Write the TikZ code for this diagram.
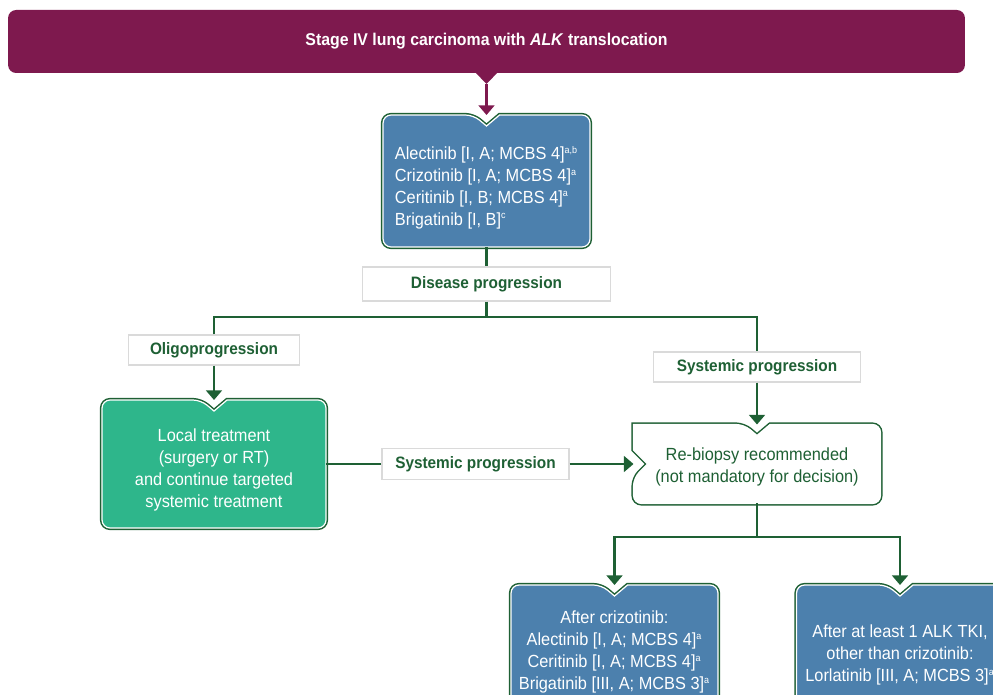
\documentclass[tikz,border=0pt]{standalone}
\usepackage{fontspec}
\setmainfont{Liberation Sans}[FakeStretch=0.93]
\usepackage{tikz}
\usetikzlibrary{arrows.meta,backgrounds}

\definecolor{maroon}{RGB}{126,25,78}
\definecolor{boxblue}{RGB}{76,128,173}
\definecolor{dkgreen}{RGB}{30,96,52}
\definecolor{localgreen}{RGB}{46,182,139}
\definecolor{tagline}{RGB}{218,218,218}

\newcommand{\supnote}[1]{\textsuperscript{\fontsize{5.5}{6}\selectfont #1}}

% frame with a notch in the top edge
\newcommand{\notchframe}[2]{%
  \path[boxframe=#2] ([xshift=0.26cm]#1.north) [rounded corners=0.16cm]
    -- (#1.north east) -- (#1.south east) -- (#1.south west) -- (#1.north west)
    -- ([xshift=-0.26cm]#1.north) [sharp corners] -- ([yshift=-0.22cm]#1.north) -- cycle;}

\tikzset{
  boxshape/.style={inner sep=0pt, outer sep=0pt},
  boxframe/.style={fill=#1, preaction={draw=dkgreen, line width=2.4pt}, draw=white, line width=0.7pt},
  boxtext/.style={text=white, align=center, inner sep=0pt, font=\fontsize{10}{12.5}\selectfont},
  tag/.style={draw=tagline, fill=white, line width=0.6pt, inner sep=0pt, text=dkgreen,
    font=\fontsize{9.4}{11}\selectfont\bfseries},
  link/.style={draw=dkgreen, line width=1.4pt},
  arrowlink/.style={link, -{Triangle[width=9pt,length=5.5pt]}},
}

\begin{document}
\begin{tikzpicture}[x=0.02cm, y=-0.02cm]

  \clip (0,0) rectangle (993,695);

  % top banner
  \node[boxshape, fill=maroon, rounded corners=0.16cm, minimum width=19.14cm, minimum height=1.26cm,
    text=white, font=\fontsize{9.7}{11}\selectfont\bfseries] (stage) at (486.5,41.5)
    {Stage IV lung carcinoma with \textit{ALK} translocation};
  \fill[maroon] ([xshift=-0.26cm,yshift=0.05cm]stage.south) -- ([xshift=0.26cm,yshift=0.05cm]stage.south)
    -- ([yshift=-0.22cm]stage.south) -- cycle;
  \coordinate (stagetip) at ([yshift=-0.22cm]stage.south);

  % first line
  \node[boxshape, minimum width=4.14cm, minimum height=2.64cm] (first) at (486.5,181) {};
  \node[boxtext, align=left] (first-txt) at ([yshift=-0.13cm]first.center)
    {Alectinib [I, A; MCBS 4]\supnote{a,b}\\
     Crizotinib [I, A; MCBS 4]\supnote{a}\\
     Ceritinib [I, B; MCBS 4]\supnote{a}\\
     Brigatinib [I, B]\supnote{c}};

  \node[tag, minimum width=4.96cm, minimum height=0.68cm] (dis) at (486.5,284) {Disease progression};
  \coordinate (split) at (486.5,317);

  \node[tag, minimum width=3.42cm, minimum height=0.6cm] (oligo) at (214,350) {Oligoprogression};
  \node[tag, minimum width=4.14cm, minimum height=0.6cm] (sys) at (757,367) {Systemic progression};

  % local treatment
  \node[boxshape, minimum width=4.48cm, minimum height=2.56cm] (local) at (214,464) {};
  \node[boxtext] (local-txt) at ([yshift=-0.12cm]local.center)
    {Local treatment\\ (surgery or RT)\\ and continue targeted\\ systemic treatment};

  \node[tag, minimum width=3.74cm, minimum height=0.62cm] (sysmid) at (475.5,464) {Systemic progression};

  % re-biopsy
  \node[boxshape, minimum width=4.94cm, minimum height=1.58cm] (rebio) at (757,464) {};
  \node[boxtext, text=dkgreen] (rebio-txt) at ([yshift=-0.06cm]rebio.center)
    {Re-biopsy recommended\\ (not mandatory for decision)};
  \coordinate (split2) at (757,537);

  % second line
  \node[boxshape, minimum width=4.14cm, minimum height=3cm] (after1) at (614.5,660) {};
  \node[boxtext] (after1-txt) at ([yshift=0.155cm]after1.center)
    {After crizotinib:\\
     Alectinib [I, A; MCBS 4]\supnote{a}\\
     Ceritinib [I, A; MCBS 4]\supnote{a}\\
     Brigatinib [III, A; MCBS 3]\supnote{a}};

  \node[boxshape, minimum width=4.14cm, minimum height=3cm] (after2) at (900,660) {};
  \node[boxtext] (after2-txt) at ([yshift=0.1cm]after2.center)
    {After at least 1 ALK TKI,\\
     other than crizotinib:\\
     Lorlatinib [III, A; MCBS 3]\supnote{a}};

  \begin{scope}[on background layer]
    \notchframe{first}{boxblue}
    \notchframe{local}{localgreen}
    \notchframe{after1}{boxblue}
    \notchframe{after2}{boxblue}
    \path[boxframe=white] ([xshift=0.26cm]rebio.north) [rounded corners=0.16cm]
      -- (rebio.north east) -- (rebio.south east) -- (rebio.south west)
      -- ([yshift=-0.28cm]rebio.west) [sharp corners] -- ([xshift=0.28cm]rebio.west)
      -- ([yshift=0.28cm]rebio.west) -- (rebio.north west) [rounded corners=0.16cm]
      -- ([xshift=-0.26cm]rebio.north) [sharp corners] -- ([yshift=-0.22cm]rebio.north) -- cycle;
  \end{scope}

  % connectors
  \draw[draw=maroon, line width=1.4pt, -{Triangle[width=9pt,length=5.5pt]}] (stagetip) -- (first.north);
  \draw[link] (first) -- (dis);
  \draw[link] (dis) -- (split);
  \draw[link] (oligo.north) |- (split) -| (sys.north);
  \draw[arrowlink] (oligo) -- (local.north);
  \draw[arrowlink] (sys) -- (rebio.north);
  \draw[link] (local.east) -- (sysmid.west);
  \draw[arrowlink] (sysmid.east) -- (rebio.west);
  \draw[link] (rebio) -- (split2);
  \draw[arrowlink] (split2) -| (after1.north);
  \draw[arrowlink] (split2) -| (after2.north);

\end{tikzpicture}
\end{document}
